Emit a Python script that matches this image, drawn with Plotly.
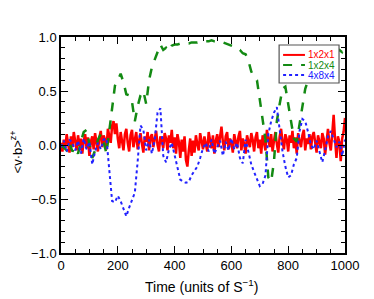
import plotly.graph_objects as go

t_red = [i * 5 for i in range(201)]
red_vals = [
    0.02,-0.06,0.05,-0.03,0.10,0.03,-0.07,0.08,-0.02,0.12,0.04,-0.05,0.09,-0.01,0.06,-0.08,0.04,0.10,-0.03,0.07,
    -0.10,0.03,0.08,-0.04,0.11,0.02,-0.06,0.07,0.13,-0.02,0.09,0.05,-0.04,0.15,0.08,0.02,0.18,0.22,0.10,0.20,
    0.06,-0.03,0.12,0.04,-0.05,0.10,0.15,0.02,-0.06,0.09,0.14,-0.02,0.07,0.12,-0.04,0.05,0.11,0.01,-0.07,0.08,
    0.03,0.12,-0.05,0.07,0.10,-0.02,0.06,0.13,0.00,-0.06,0.08,0.04,-0.03,0.11,0.06,-0.05,0.09,0.02,0.14,-0.03,
    0.07,-0.08,0.10,0.03,-0.12,0.05,-0.06,0.08,-0.14,-0.20,-0.05,0.06,-0.10,0.04,-0.07,0.09,0.01,-0.05,0.11,0.03,
    -0.04,0.08,0.02,-0.06,0.12,0.05,-0.03,0.09,-0.08,0.04,0.10,-0.02,0.06,0.17,0.03,-0.05,0.08,0.12,-0.04,0.06,
    0.02,-0.07,0.10,0.04,-0.03,0.08,0.13,-0.05,0.06,0.01,-0.08,0.09,0.04,-0.02,0.11,0.05,-0.06,0.07,0.12,-0.03,
    0.05,-0.08,0.09,0.02,-0.05,0.14,0.06,-0.02,0.10,-0.06,0.04,0.12,0.01,-0.07,0.08,0.15,0.03,-0.04,0.10,0.05,
    -0.06,0.09,0.02,0.13,-0.03,0.07,-0.08,0.11,0.04,-0.02,0.09,0.14,-0.05,0.06,0.01,0.10,-0.04,0.08,0.12,0.00,
    -0.07,0.09,0.04,-0.03,0.11,0.06,-0.09,0.07,0.15,0.02,-0.05,0.10,0.28,0.05,-0.12,0.08,0.03,-0.15,0.06,0.12,
    0.25,
]

t_coarse = [i * 10 for i in range(101)]
green_vals = [
    0.00,-0.03,-0.05,0.02,-0.06,-0.02,-0.08,0.03,0.12,0.14,
    0.02,-0.12,-0.05,0.05,0.10,0.03,-0.08,0.15,0.35,0.55,
    0.60,0.66,0.58,0.47,0.46,0.40,0.22,0.36,0.46,0.50,
    0.38,0.60,0.72,0.79,0.87,0.93,0.88,0.90,0.87,0.92,
    0.93,0.93,0.94,0.94,0.94,0.94,0.95,0.95,0.95,0.96,
    0.96,0.96,0.96,0.97,0.96,0.96,0.95,0.95,0.94,0.93,
    0.92,0.91,0.89,0.88,0.85,0.84,0.78,0.68,0.63,0.60,
    0.42,0.22,0.05,-0.30,-0.34,-0.15,0.22,0.38,0.52,0.54,
    0.38,0.22,0.06,0.03,0.20,0.38,0.52,0.60,0.66,0.70,
    0.74,0.77,0.80,0.82,0.84,0.85,0.86,0.87,0.88,0.86,
    0.90,
]
blue_vals = [
    -0.02,0.04,-0.06,0.05,0.02,-0.05,0.04,-0.08,0.06,-0.04,
    0.03,-0.18,-0.06,0.02,-0.04,0.05,0.06,-0.22,-0.52,-0.53,
    -0.47,-0.52,-0.60,-0.66,-0.58,-0.50,-0.44,-0.15,0.18,0.14,
    -0.05,0.05,-0.08,0.05,0.30,0.34,-0.10,-0.16,-0.04,0.02,
    -0.10,-0.22,-0.32,-0.34,-0.35,-0.34,-0.28,-0.24,-0.20,-0.12,
    -0.03,0.02,-0.06,0.05,-0.08,-0.02,0.04,-0.10,0.03,-0.05,
    0.06,-0.04,0.02,-0.12,-0.17,0.05,-0.06,-0.18,-0.25,-0.32,
    -0.38,-0.36,-0.28,0.10,0.22,0.30,0.35,0.14,-0.06,-0.20,
    -0.30,-0.28,-0.18,-0.12,0.13,0.24,0.22,0.12,0.00,-0.04,
    0.04,-0.06,-0.16,-0.05,0.08,0.13,0.06,-0.02,0.03,-0.10,
    0.05,
]

names = ["1x2x1", "1x2x4", "4x8x4"]
colors = ["#ff0000", "#138a13", "#2222ff"]
dashes = ["solid", "dash", "dot"]
widths = [2.5, 2.5, 2]

fig = go.Figure()
series = [(t_red, red_vals), (t_coarse, green_vals), (t_coarse, blue_vals)]
for (xs, ys), nm, c, d, w in zip(series, names, colors, dashes, widths):
    fig.add_trace(go.Scatter(x=xs, y=ys, mode="lines", name=nm, showlegend=False,
                             line=dict(color=c, width=w, dash=d)))

# Legend drawn manually (compact box as in the reference)
shapes = [dict(type="rect", xref="paper", yref="paper", x0=0.768, x1=0.979, y0=0.787, y1=0.963,
               line=dict(color="#555555", width=1.2), fillcolor="white", layer="above")]
annotations = []
rows = [0.917, 0.870, 0.824]
for yy, nm, c, d in zip(rows, names, colors, dashes):
    shapes.append(dict(type="line", xref="paper", yref="paper", x0=0.782, x1=0.859, y0=yy, y1=yy,
                       line=dict(color=c, width=2, dash=d), layer="above"))
    annotations.append(dict(xref="paper", yref="paper", x=0.864, y=yy, text=nm, showarrow=False,
                            xanchor="left", yanchor="middle",
                            font=dict(size=10, color=c, family="Liberation Sans, Arial")))

# Axis titles
annotations.append(dict(xref="paper", yref="paper", x=0.493, y=-0.153, showarrow=False,
                        text="Time (units of S<sup>−1</sup>)", xanchor="center", yanchor="middle",
                        font=dict(size=14, color="black", family="Liberation Sans, Arial")))
annotations.append(dict(xref="paper", yref="paper", x=-0.155, y=0.47, showarrow=False,
                        text="&lt;v·b&gt;<sup>z+</sup>", textangle=-90,
                        xanchor="center", yanchor="middle",
                        font=dict(size=13, color="black", family="Liberation Sans, Arial")))

axis_common = dict(
    showline=True, linecolor="black", linewidth=1.5, mirror="allticks",
    ticks="inside", ticklen=7, tickwidth=1.2, tickcolor="black",
    showgrid=False, zeroline=False, automargin=False,
    tickfont=dict(family="Liberation Sans, Arial", size=13, color="black"),
)

fig.update_layout(
    width=374, height=299,
    margin=dict(l=61, r=29, t=37, b=46),
    paper_bgcolor="white", plot_bgcolor="white",
    font=dict(family="Liberation Sans, Arial", color="black"),
    xaxis=dict(range=[0, 1000], dtick=200, tick0=0,
               minor=dict(ticks="inside", ticklen=4, dtick=50, tickcolor="black", tickwidth=1),
               **axis_common),
    yaxis=dict(range=[-1, 1], dtick=0.5, tick0=-1, tickformat=".1f",
               minor=dict(ticks="inside", ticklen=4, dtick=0.1, tickcolor="black", tickwidth=1),
               **axis_common),
    shapes=shapes,
    annotations=annotations,
)

fig.write_html("out.html", config={"displayModeBar": False},
               post_script="document.body.style.margin='0';document.body.style.overflow='hidden';")
